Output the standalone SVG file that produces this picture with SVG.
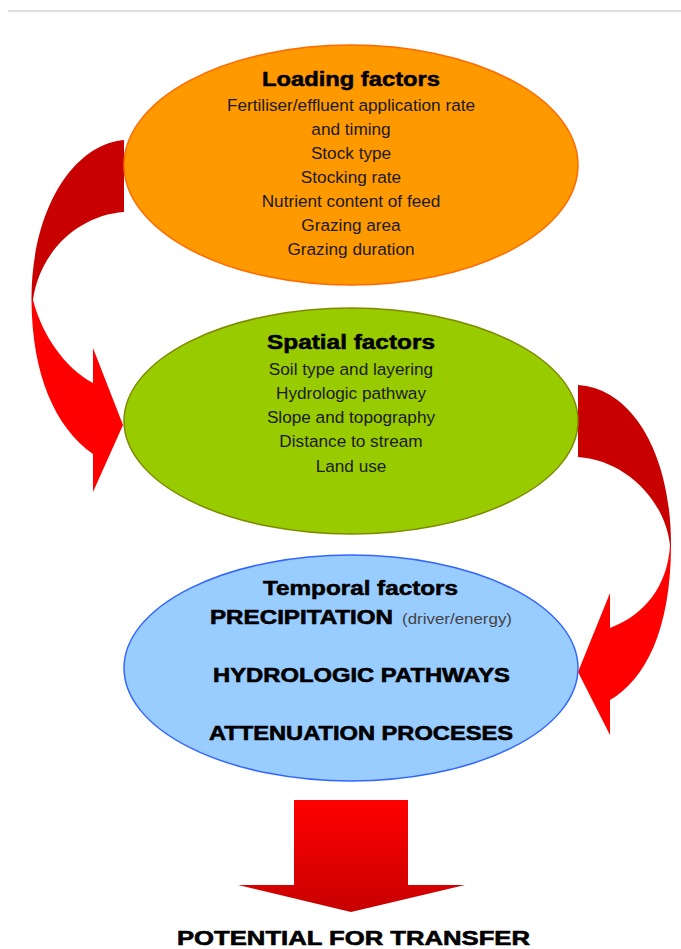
<svg xmlns="http://www.w3.org/2000/svg" width="681" height="949" viewBox="0 0 681 949">
<defs>
<linearGradient id="downGrad" x1="0" y1="0" x2="0" y2="1">
<stop offset="0" stop-color="#ff0000"/>
<stop offset="1" stop-color="#c80000"/>
</linearGradient>
<style>
.body{font-family:"Liberation Sans",Arial,sans-serif;font-size:17.2px;fill:#1a1a1a;text-anchor:middle}
.title{font-family:"Liberation Sans",Arial,sans-serif;font-weight:bold;font-size:19.5px;fill:#000;stroke:#000;stroke-width:0.5;text-anchor:middle}
.caps{font-family:"Liberation Sans",Arial,sans-serif;font-weight:bold;font-size:20px;fill:#000;stroke:#000;stroke-width:0.6}
.dark{fill:#c80000}
.bright{fill:#ff0000}
</style>
</defs>
<rect width="681" height="949" fill="#fff"/>
<line x1="8" y1="11" x2="681" y2="11" stroke="#dedede" stroke-width="2"/>

<g id="connectors">
<g id="arrow-left">
<path class="dark" d="M124,140 C70,145 31,215 31.5,300 L33,300 C40,250 80,215 124,212 Z"/>
<path class="bright" d="M31.5,300 C32,375 55,427 93,454 L93,492 L123,425 L93,348 L93,383 C65,368 42,335 33,300 Z"/>
</g>
<g id="arrow-right">
<path class="dark" d="M578,385 C630,388 671,450 671,545 L670,545 C665,500 625,460 578,457 Z"/>
<path class="bright" d="M671,545 C671,630 645,680 610,700 L610,735 L578,672 L610,593 L610,628 C645,615 668,585 670,545 Z"/>
</g>
<g id="arrow-down">
<path fill="url(#downGrad)" d="M294,800 L408,800 L408,885 L465,885 L351,912 L238,885 L294,885 Z"/>
</g>
</g>

<g id="loading">
<ellipse cx="351" cy="165" rx="227" ry="120" fill="#ff9900" stroke="#ff6a00" stroke-width="1.5"/>
<text class="title" x="351" y="86" textLength="178" lengthAdjust="spacingAndGlyphs">Loading factors</text>
<text class="body" x="351" y="111">Fertiliser/effluent application rate</text>
<text class="body" x="351" y="135">and timing</text>
<text class="body" x="351" y="159">Stock type</text>
<text class="body" x="351" y="183">Stocking rate</text>
<text class="body" x="351" y="207">Nutrient content of feed</text>
<text class="body" x="351" y="231">Grazing area</text>
<text class="body" x="351" y="255">Grazing duration</text>
</g>

<g id="spatial">
<ellipse cx="351" cy="421" rx="227" ry="113" fill="#99cc00" stroke="#7f8a00" stroke-width="1.5"/>
<text class="title" x="351" y="349" textLength="168" lengthAdjust="spacingAndGlyphs">Spatial factors</text>
<text class="body" x="351" y="375">Soil type and layering</text>
<text class="body" x="351" y="399">Hydrologic pathway</text>
<text class="body" x="351" y="423">Slope and topography</text>
<text class="body" x="351" y="447">Distance to stream</text>
<text class="body" x="351" y="472">Land use</text>
</g>

<g id="temporal">
<ellipse cx="351" cy="668" rx="227" ry="113" fill="#99ccff" stroke="#3366ff" stroke-width="1.5"/>
<text class="title" x="360.5" y="595" textLength="195" lengthAdjust="spacingAndGlyphs">Temporal factors</text>
<text class="caps" x="210" y="624" textLength="183" lengthAdjust="spacingAndGlyphs">PRECIPITATION</text>
<text x="402" y="624" font-family="Liberation Sans, Arial, sans-serif" font-size="15" fill="#444" textLength="110" lengthAdjust="spacingAndGlyphs">(driver/energy)</text>
<text class="caps" x="213" y="682" textLength="297" lengthAdjust="spacingAndGlyphs">HYDROLOGIC PATHWAYS</text>
<text class="caps" x="209" y="740" textLength="304" lengthAdjust="spacingAndGlyphs">ATTENUATION PROCESES</text>
</g>

<g id="result">
<text class="caps" x="177" y="945" font-size="22" textLength="353" lengthAdjust="spacingAndGlyphs">POTENTIAL FOR TRANSFER</text>
</g>
</svg>
